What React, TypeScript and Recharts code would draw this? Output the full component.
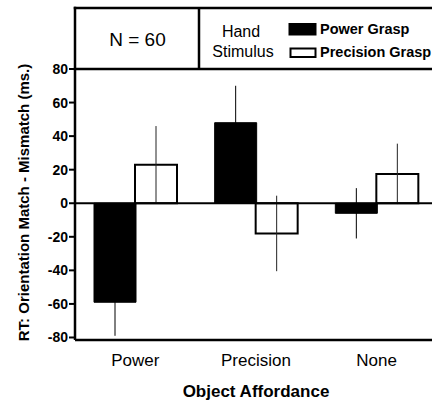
import React from 'react';
import { BarChart, Bar, XAxis, YAxis, ReferenceLine, ErrorBar } from 'recharts';

const categories = ['Power', 'Precision', 'None'];
const powerGrasp = [-59, 48, -6];
const powerGraspErr = [20, 22, 15];
const precisionGrasp = [23, -18, 17.5];
const precisionGraspErr = [23, 22.5, 18];
const yTicks = [-80, -60, -40, -20, 0, 20, 40, 60, 80];

const FONT = '"Liberation Sans", Arial, Helvetica, sans-serif';

const data = categories.map((name, i) => ({
  name,
  power: powerGrasp[i],
  powerErr: powerGraspErr[i],
  precision: precisionGrasp[i],
  precisionErr: precisionGraspErr[i],
}));

const App: React.FC = () => {
  return (
    <div style={{ position: 'absolute', left: 0, top: 0, width: 432, height: 401, overflow: 'hidden', background: '#fff', fontFamily: FONT }}>
      <BarChart
        width={445}
        height={401}
        data={data}
        margin={{ top: 69, right: 8, bottom: 31, left: 15 }}
        barSize={42}
        barGap={-1}
      >
        <XAxis
          dataKey="name"
          height={30}
          axisLine={{ stroke: '#000', strokeWidth: 2.5 }}
          tickLine={false}
          tickSize={6}
          tickMargin={8}
          tick={{ fill: '#000', fontSize: 17, fontFamily: FONT }}
          label={{
            position: 'bottom',
            content: (props: any) => {
              const vb = props.viewBox || { x: 75, width: 362 };
              return (
                <text x={vb.x + vb.width / 2} y={397} textAnchor="middle" fontSize={17} fontWeight="bold" fontFamily={FONT} fill="#000">
                  Object Affordance
                </text>
              );
            },
          }}
        />
        <YAxis
          width={60}
          domain={[-81.5, 80]}
          ticks={yTicks}
          interval={0}
          allowDataOverflow
          axisLine={{ stroke: '#000', strokeWidth: 2.5 }}
          tickLine={{ stroke: '#000', strokeWidth: 2 }}
          tickSize={6}
          tickMargin={1}
          tick={{ fill: '#000', fontSize: 14, fontWeight: 'bold', fontFamily: FONT }}
          label={{
            position: 'left',
            content: (props: any) => {
              const vb = props.viewBox || { y: 69, height: 271 };
              const cy = vb.y + vb.height / 2 - 2;
              return (
                <text
                  x={0}
                  y={0}
                  transform={`translate(28.5, ${cy}) rotate(-90)`}
                  textAnchor="middle"
                  fontSize={15}
                  fontWeight="bold"
                  fontFamily={FONT}
                  fill="#000"
                >
                  RT: Orientation Match - Mismatch (ms.)
                </text>
              );
            },
          }}
        />
        <Bar dataKey="power" fill="#000" stroke="#000" strokeWidth={1} isAnimationActive={false}>
          <ErrorBar dataKey="powerErr" width={0} stroke="#000" strokeOpacity={1} strokeWidth={1} direction="y" />
        </Bar>
        <Bar dataKey="precision" fill="#fff" stroke="#000" strokeWidth={2} isAnimationActive={false}>
          <ErrorBar dataKey="precisionErr" width={0} stroke="#222" strokeWidth={1} direction="y" />
        </Bar>
        <ReferenceLine y={0} stroke="#000" strokeWidth={2} />
      </BarChart>

      <svg width={432} height={401} style={{ position: 'absolute', left: 0, top: 0, pointerEvents: 'none' }}>
        <g stroke="#000" strokeWidth={2.5}>
          <line x1={73.75} y1={8} x2={432} y2={8} />
          <line x1={73.75} y1={69} x2={432} y2={69} />
          <line x1={75} y1={6.75} x2={75} y2={70} />
          <line x1={199} y1={8} x2={199} y2={69} />
        </g>
        <text x={137.5} y={46} textAnchor="middle" fontSize={19} fontFamily={FONT} fill="#000">N = 60</text>
        <text x={241} y={36.7} textAnchor="middle" fontSize={16} fontFamily={FONT} fill="#000">Hand</text>
        <text x={243} y={56.7} textAnchor="middle" fontSize={16} fontFamily={FONT} fill="#000">Stimulus</text>
        <rect x={288.5} y={23} width={28} height={12.5} fill="#000" />
        <rect x={290.5} y={48.5} width={25} height={8.5} fill="#fff" stroke="#000" strokeWidth={2} />
        <text x={320} y={34.3} fontSize={14.5} fontWeight="bold" fontFamily={FONT} fill="#000">Power Grasp</text>
        <text x={320} y={56.7} fontSize={14.5} fontWeight="bold" fontFamily={FONT} fill="#000">Precision Grasp</text>
      </svg>
    </div>
  );
};

export default App;
